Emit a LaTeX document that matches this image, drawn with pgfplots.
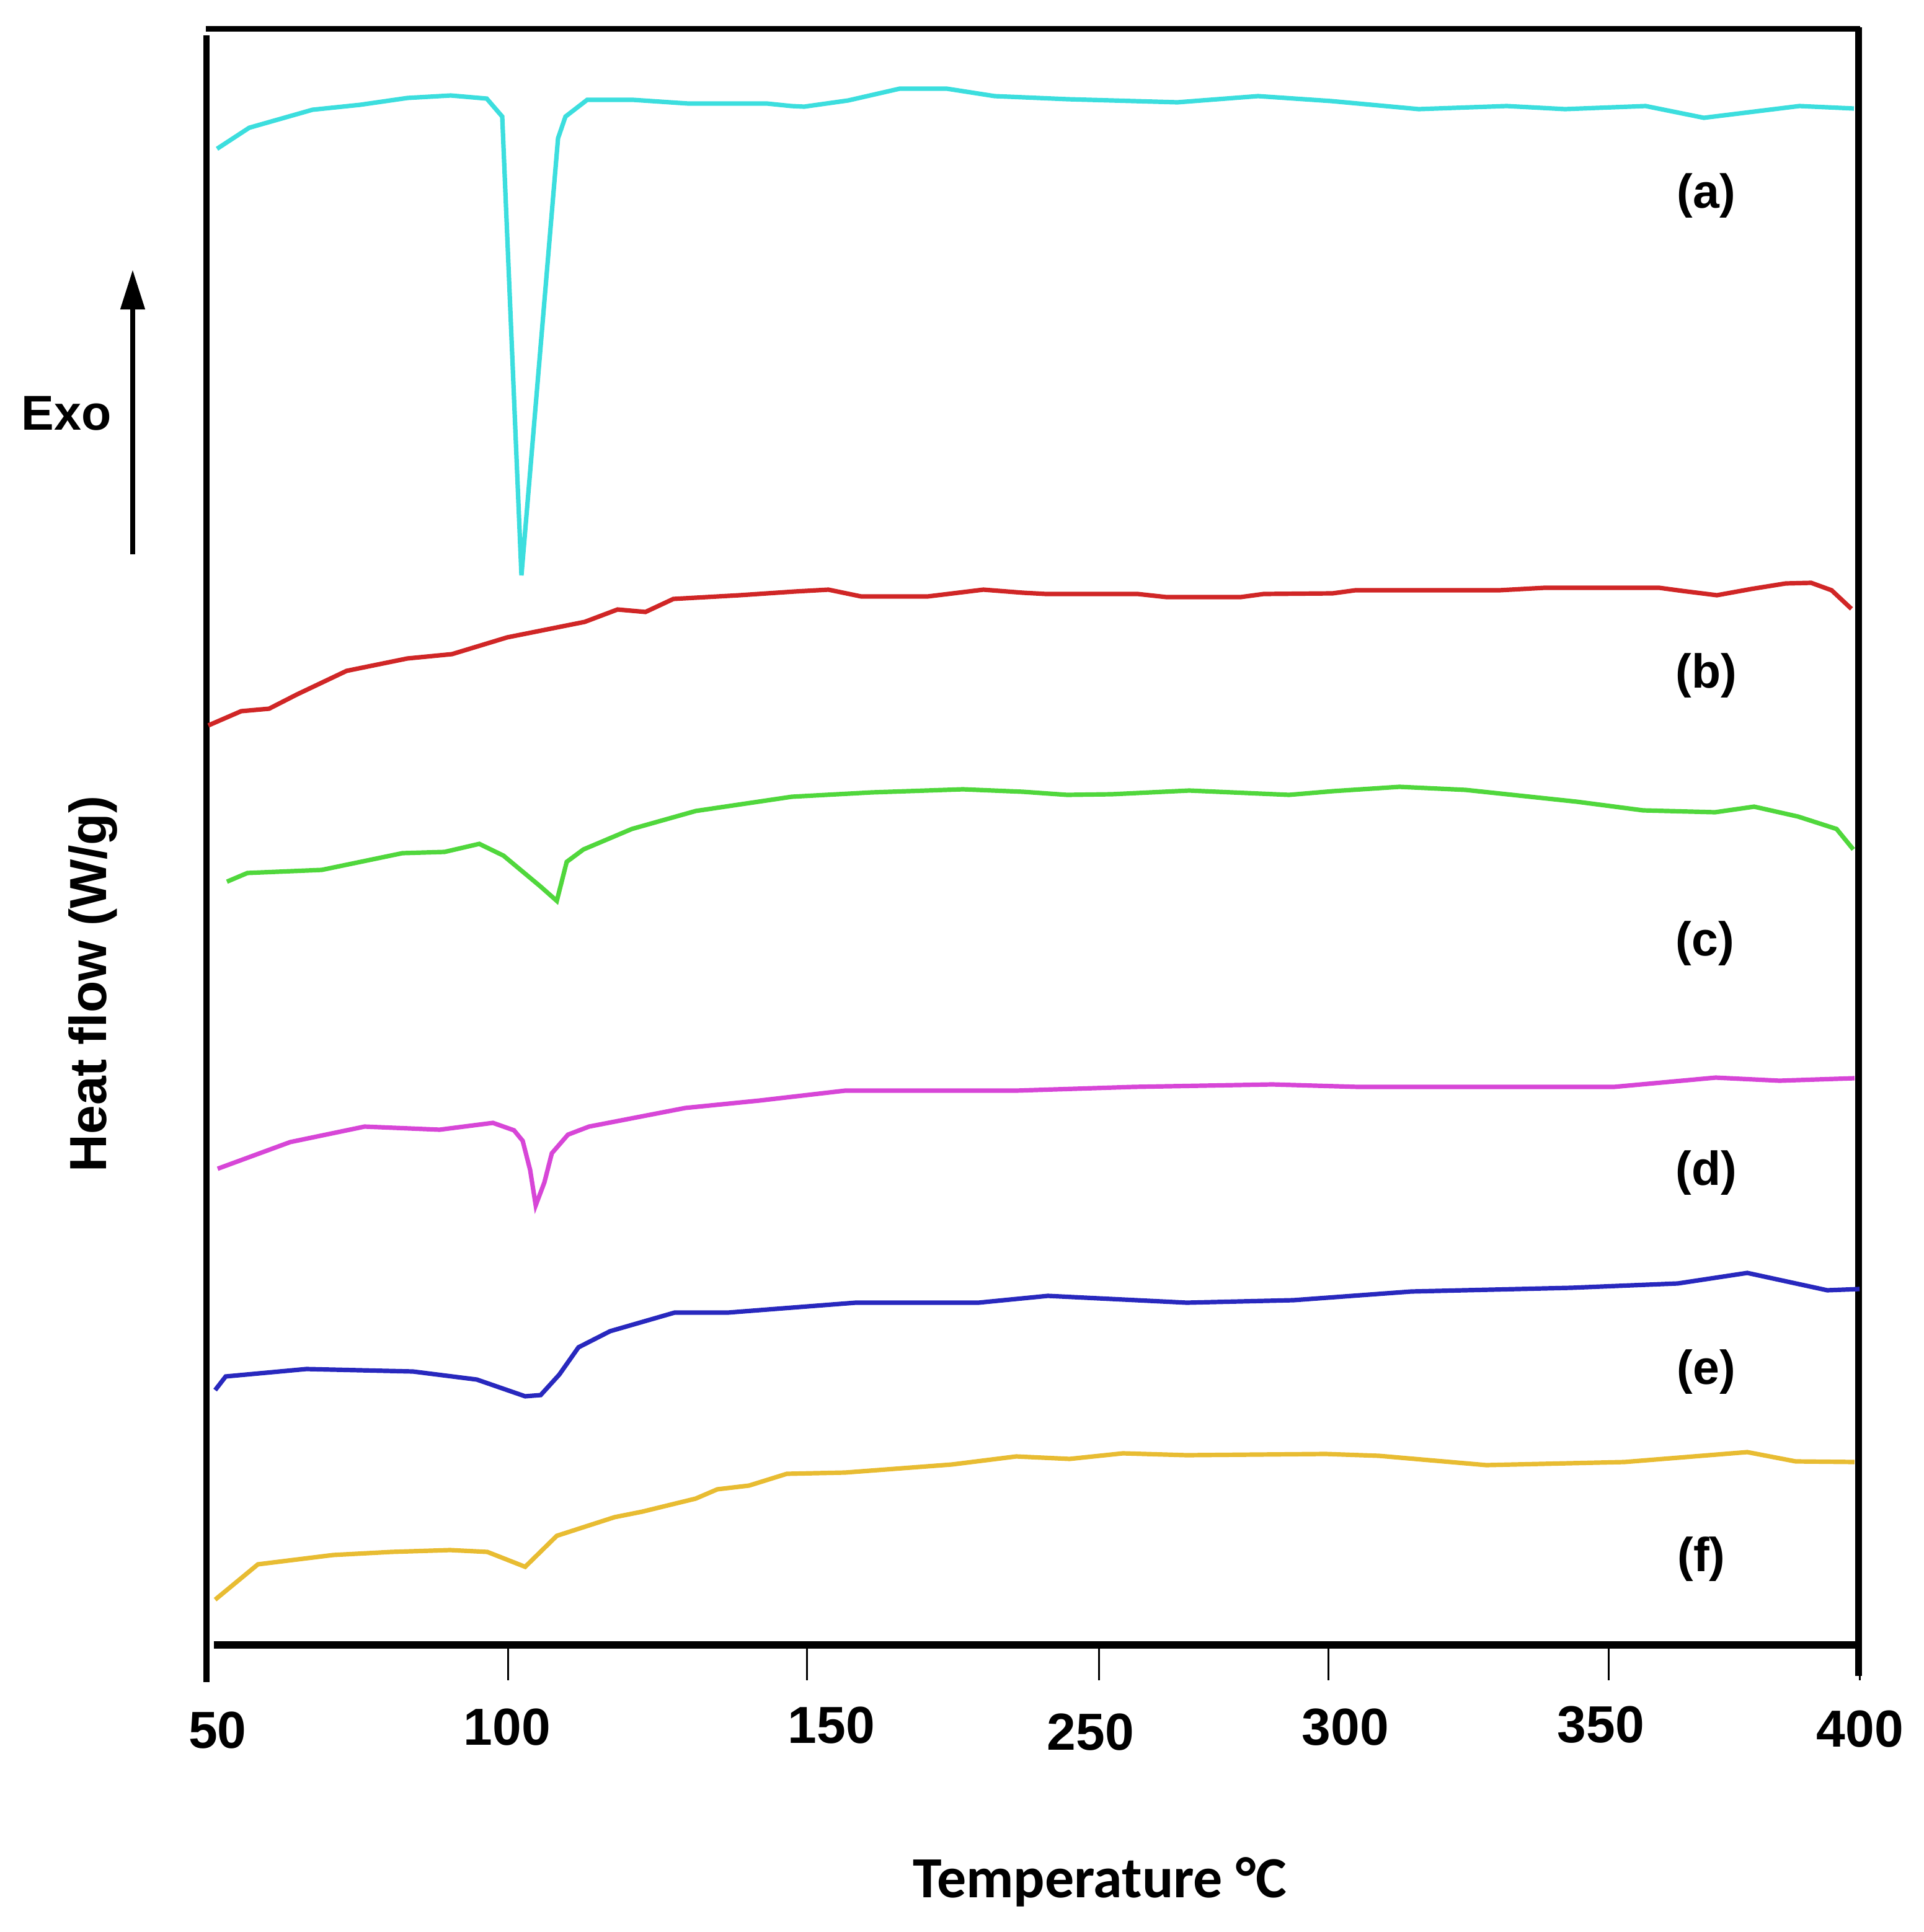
\documentclass[border=0pt]{standalone}
\usepackage{fontspec}
\setmainfont{Liberation Sans}
\newfontfamily\carlito{Carlito}
\usepackage{pgfplots}
\pgfplotsset{compat=1.18}
\usetikzlibrary{arrows.meta}
\newcommand\tl[3]{\raisebox{#2}[0pt][0pt]{\makebox[0pt][c]{\hspace*{#1}\hspace*{#1}#3}}}
\definecolor{ccyan}{RGB}{60,222,222}
\definecolor{cred}{RGB}{208,38,38}
\definecolor{cgreen}{RGB}{80,215,60}
\definecolor{cmag}{RGB}{215,70,215}
\definecolor{cblue}{RGB}{40,40,190}
\definecolor{cgold}{RGB}{232,188,50}
\begin{document}
\begin{tikzpicture}
\useasboundingbox (0,0) rectangle (310.3pt,311.6pt);
\begin{axis}[
  at={(33.2pt,46.3pt)}, anchor=south west,
  scale only axis, width=266.8pt, height=260.9pt,
  xmin=332, xmax=3000, ymin=-2653, ymax=-44,
  axis line style={draw=none},
  ytick=\empty,
  xtick={332,820,1302,1773,2143,2595,3000},
  xticklabels={\tl{1.9pt}{-0.3pt}{50},\tl{-0.2pt}{0.2pt}{100},\tl{3.9pt}{0.5pt}{150},\tl{-1.4pt}{-0.5pt}{250},\tl{2.7pt}{0.2pt}{300},\tl{-1.3pt}{0.7pt}{350},\tl{0pt}{0pt}{400}},
  xtick pos=bottom, tick align=outside,
  major tick length=5.7pt,
  tick style={black, line width=0.3pt},
  xticklabel style={anchor=center, yshift=-10.7pt, font=\fontsize{8.4}{10}\selectfont\bfseries},
  clip=false,
  every axis plot/.append style={line width=0.72pt, mark=none},
]
% frame
\draw[line width=0.9pt] (axis cs:332,-46) -- (axis cs:3000,-46);
\draw[line width=0.95pt] (axis cs:333,-57) -- (axis cs:333,-2713);
\draw[line width=1.1pt] (axis cs:2998,-44) -- (axis cs:2998,-2703);
\draw[line width=1.25pt] (axis cs:345,-2653) -- (axis cs:3000,-2653);

% (a)
\addplot[ccyan] coordinates {
(350,-240) (402,-206) (504,-177) (581,-169) (657,-158) (727,-154) (785,-159) (810,-188) (841,-928) (900,-223) (912,-188) (947,-161) (1021,-161) (1110,-167) (1237,-167) (1276,-171) (1297,-172) (1368,-162) (1451,-143) (1527,-143) (1604,-155) (1722,-160) (1899,-165) (2029,-155) (2147,-163) (2288,-176) (2430,-171) (2524,-176) (2654,-171) (2748,-190) (2902,-171) (2990,-175)
};
% (b)
\addplot[cred] coordinates {
(336,-1170) (389,-1147) (434,-1143) (479,-1120) (559,-1082) (657,-1062) (729,-1055) (818,-1028) (943,-1003) (996,-983) (1041,-987) (1086,-966) (1193,-960) (1282,-954) (1336,-951) (1389,-962) (1496,-962) (1586,-951) (1650,-956) (1687,-958) (1835,-958) (1881,-963) (2001,-963) (2038,-958) (2149,-957) (2186,-952) (2418,-952) (2491,-948) (2676,-948) (2713,-953) (2769,-960) (2824,-950) (2880,-941) (2921,-940) (2954,-952) (2986,-982)
};
% (c)
\addplot[cgreen] coordinates {
(366,-1422) (399,-1408) (519,-1403) (649,-1376) (717,-1374) (773,-1361) (812,-1380) (872,-1430) (898,-1453) (914,-1390) (941,-1370) (1019,-1337) (1122,-1308) (1277,-1285) (1406,-1278) (1553,-1273) (1650,-1277) (1721,-1282) (1793,-1281) (1918,-1275) (2079,-1282) (2150,-1276) (2257,-1269) (2364,-1274) (2543,-1293) (2650,-1307) (2766,-1310) (2829,-1301) (2900,-1317) (2962,-1337) (2989,-1370)
};
% (d)
\addplot[cmag] coordinates {
(351,-1885) (468,-1842) (588,-1817) (709,-1822) (795,-1811) (829,-1823) (843,-1840) (855,-1887) (864,-1944) (878,-1907) (890,-1860) (916,-1830) (950,-1817) (1105,-1787) (1225,-1775) (1363,-1759) (1639,-1759) (1828,-1753) (2052,-1749) (2190,-1753) (2603,-1753) (2767,-1738) (2870,-1743) (2991,-1739)
};
% (e)
\addplot[cblue] coordinates {
(347,-2242) (364,-2220) (494,-2208) (666,-2212) (769,-2225) (847,-2252) (872,-2250) (902,-2217) (933,-2173) (984,-2147) (1088,-2117) (1174,-2117) (1380,-2101) (1578,-2101) (1690,-2090) (1914,-2101) (2086,-2097) (2276,-2083) (2534,-2077) (2706,-2070) (2818,-2053) (2947,-2081) (2999,-2079)
};
% (f)
\addplot[cgold] coordinates {
(347,-2580) (416,-2523) (537,-2508) (631,-2503) (726,-2500) (786,-2503) (847,-2527) (898,-2477) (991,-2447) (1036,-2438) (1122,-2417) (1157,-2402) (1208,-2396) (1269,-2377) (1363,-2375) (1535,-2362) (1639,-2349) (1725,-2353) (1811,-2344) (1914,-2347) (2138,-2345) (2224,-2348) (2397,-2363) (2620,-2358) (2818,-2342) (2896,-2357) (2991,-2358)
};

% curve labels
\begin{scope}[every node/.style={font=\fontsize{7.7}{9}\selectfont\bfseries, inner sep=0pt}]
\node at (axis cs:2752,-316) {(a)};
\node at (axis cs:2752,-1090) {(b)};
\node at (axis cs:2750,-1522) {(c)};
\node at (axis cs:2752,-1892) {(d)};
\node at (axis cs:2752,-2213) {(e)};
\node at (axis cs:2744,-2515) {(f)};
\end{scope}

% Exo arrow
\draw[line width=0.8pt, -{Triangle[width=3.8pt,length=6.4pt]}] (axis cs:214,-894) -- (axis cs:214,-435);
\node[font=\fontsize{7.9}{9}\selectfont\bfseries, inner sep=0pt] at (axis cs:107,-667) {Exo};
\node[font=\fontsize{8.4}{10}\selectfont\bfseries, inner sep=0pt, rotate=90] at (axis cs:150,-1587) {Heat flow (W/g)};
\node[font=\fontsize{9.4}{11}\selectfont\carlito\bfseries, inner sep=0pt, anchor=base] at (axis cs:1774,-3060) {Temperature °C};
\end{axis}
\end{tikzpicture}
\end{document}
